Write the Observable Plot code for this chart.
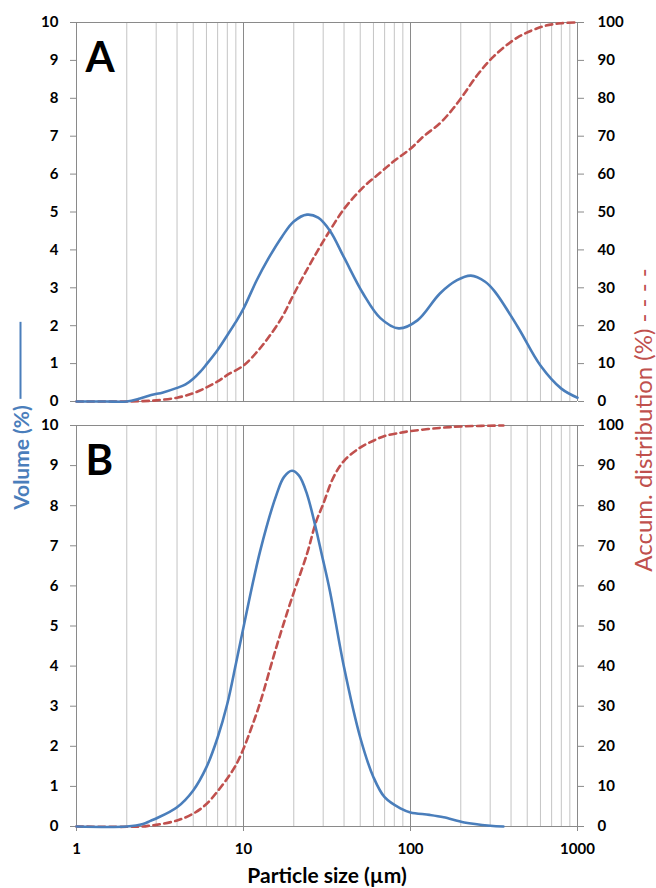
<!DOCTYPE html>
<html>
<head>
<meta charset="utf-8">
<script src="https://cdn.jsdelivr.net/npm/d3@7"></script>
<script src="https://cdn.jsdelivr.net/npm/@observablehq/plot@0.6"></script>
<style>
  html, body { margin: 0; padding: 0; background: #fff; }
  body { width: 656px; height: 888px; position: relative; overflow: hidden; font-family: Lato, sans-serif; }
  #a, #b { position: absolute; left: 0; }
  #a { top: 0; }
  #b { top: 410px; }
  .ylab { position: absolute; white-space: nowrap; display: flex; align-items: center; transform: translate(-50%, -50%) rotate(-90deg); }
</style>
</head>
<body>
<div id="a"></div>
<div id="b"></div>
<div class="ylab" id="lv" style="left:20px; top:416px; color:#4a7ebb; font-size:21px; font-weight:700;">
  <span>Volume (%)</span><span style="display:inline-block; width:77px; border-top:2px solid #4a7ebb; margin-left:6px;"></span>
</div>
<div class="ylab" id="la" style="left:642px; top:420px; color:#c0504d; font-size:24px; font-weight:400;">
  <span>Accum. distribution (%) - - - -</span>
</div>
<script>
// Panel A — volume (%) vs particle size (µm)
const sizeA_vol = [1, 1.5, 2, 2.4, 2.8, 3.3, 4, 4.5, 5, 5.5, 6, 7, 8, 9, 10, 12, 14, 17, 20, 24, 28, 33, 40, 52, 66, 85, 110, 150, 190, 230, 280, 320, 440, 600, 800, 1000];
const volA      = [0, 0, 0, 0.08, 0.17, 0.24, 0.36, 0.45, 0.6, 0.78, 0.98, 1.36, 1.75, 2.1, 2.45, 3.2, 3.75, 4.35, 4.75, 4.93, 4.85, 4.5, 3.8, 2.85, 2.2, 1.93, 2.14, 2.85, 3.2, 3.32, 3.16, 2.9, 1.96, 0.95, 0.34, 0.1];
// Panel A — accumulated distribution (%)
const sizeA_acc = [1, 2, 2.5, 3, 4, 5, 6, 7, 8, 10, 12, 14, 17, 20, 24, 28, 33, 40, 52, 66, 80, 100, 120, 150, 180, 208, 250, 314, 436, 625, 800, 1000];
const accA      = [0, 0, 0.1, 0.3, 1, 2.2, 3.7, 5.3, 7, 9.5, 13, 16.7, 22.2, 28.3, 34.8, 40, 45.2, 50.8, 56.5, 60.4, 63.5, 66.7, 70.0, 73.4, 77.3, 81, 86, 91, 96, 99, 99.8, 100];
// Panel B — volume (%)
const sizeB_vol = [1, 2, 2.5, 2.77, 3, 4, 5, 6, 7, 8, 9, 10, 12.6, 15.8, 17.5, 19.5, 21.5, 24, 30, 33, 40, 50, 60, 70, 87, 100, 130, 158, 210, 300, 360];
const volB      = [0, 0, 0.06, 0.14, 0.2, 0.48, 0.9, 1.48, 2.22, 3.06, 4.05, 4.97, 6.88, 8.29, 8.72, 8.87, 8.75, 8.29, 6.63, 5.85, 3.97, 2.22, 1.23, 0.73, 0.45, 0.35, 0.29, 0.23, 0.1, 0.02, 0];
// Panel B — accumulated distribution (%)
const sizeB_acc = [1, 2.5, 2.77, 3, 4, 5, 6, 7, 8, 9, 10, 11.2, 12.6, 15.8, 19.5, 24, 27.2, 30, 34.5, 40, 50, 60, 70, 87, 100, 150, 210, 360];
const accB      = [0, 0, 0.25, 0.4, 1.5, 3.2, 5.6, 8.8, 12.0, 15.3, 19.4, 24.8, 31, 45, 57, 68, 76, 80.4, 87, 91.2, 94.5, 96.2, 97.4, 98.2, 98.6, 99.4, 99.8, 100];

const leftTicks = d3.range(0, 11);          // 0..10
const xLabels = [1, 10, 100, 1000];
const minorGrid = [1, 10, 100].flatMap(b => d3.range(2, 10).map(k => k * b));
const majorGrid = [10, 100];

const BLUE = "#4a7ebb", RED = "#c0504d", GRID = "#c4c4c4", AXIS = "#8a8a8a";

function panel({sv, v, sa, a, letter, height, marginTop, marginBottom, bottom}) {
  const volData = sv.map((s, i) => ({s, v: v[i]}));
  const accData = sa.map((s, i) => ({s, a: a[i]}));
  return Plot.plot({
    width: 656, height, marginLeft: 76, marginRight: 79, marginTop, marginBottom,
    style: {fontFamily: "Lato, sans-serif", fontSize: "15px", fontWeight: "700", color: "#000", background: "transparent", overflow: "visible"},
    x: {type: "log", domain: [1, 1000], axis: null},
    y: {domain: [0, 10], axis: null},
    marks: [
      Plot.ruleX(minorGrid, {stroke: GRID, strokeWidth: 1}),
      Plot.ruleX(majorGrid, {stroke: AXIS, strokeWidth: 1}),
      Plot.ruleX([1, 1000], {stroke: AXIS, strokeWidth: 1}),
      Plot.ruleY([0, 10], {stroke: AXIS, strokeWidth: 1}),
      Plot.axisY(leftTicks, {anchor: "left", tickSize: 6, tickPadding: 12, stroke: AXIS, fill: "#000", label: null}),
      Plot.axisY(leftTicks, {anchor: "right", tickSize: 6, tickPadding: 14, stroke: AXIS, fill: "#000", label: null, tickFormat: d => d * 10}),
      ...(bottom ? [
        Plot.axisX(xLabels, {anchor: "bottom", tickSize: 5, tickPadding: 12, stroke: AXIS, fill: "#000", label: null, tickFormat: d => String(d)}),
        Plot.text(["Particle size (µm)"], {frameAnchor: "bottom", dy: 50, fontSize: 21, fontWeight: 700, lineAnchor: "middle", textAnchor: "middle"})
      ] : []),
      Plot.line(accData, {x: "s", y: d => d.a / 10, stroke: RED, strokeWidth: 2.6, strokeDasharray: "6.5,4.5", curve: "catmull-rom"}),
      Plot.line(volData, {x: "s", y: "v", stroke: BLUE, strokeWidth: 2.6, curve: "catmull-rom"}),
      Plot.text([letter], {frameAnchor: "top-left", dx: 9, dy: 20, fontSize: 42, fontWeight: 700, textAnchor: "start", lineAnchor: "top"})
    ]
  });
}

document.getElementById("a").append(panel({sv: sizeA_vol, v: volA, sa: sizeA_acc, a: accA, letter: "A", height: 410, marginTop: 22, marginBottom: 9, bottom: false}));
document.getElementById("b").append(panel({sv: sizeB_vol, v: volB, sa: sizeB_acc, a: accB, letter: "B", height: 478, marginTop: 15, marginBottom: 62, bottom: true}));
</script>
</body>
</html>
